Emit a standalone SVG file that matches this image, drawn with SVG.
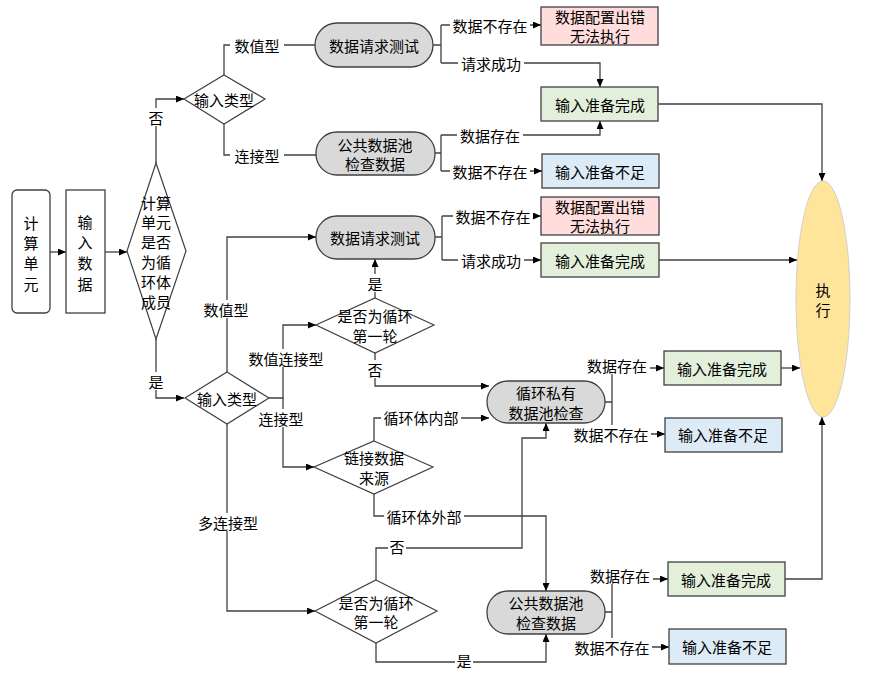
<svg xmlns="http://www.w3.org/2000/svg" width="872" height="676" viewBox="0 0 872 676">
<style>
text{font-family:"Noto Sans CJK SC","Noto Sans",sans-serif;font-size:15px;fill:#000;text-anchor:middle;dominant-baseline:central}
.box{stroke:#404040;stroke-width:1.3}
.proc{fill:#D9D9D9;stroke:#404040;stroke-width:1.3}
.dia{fill:#fff;stroke:#404040;stroke-width:1.2}
.pink{fill:#FFDDDD}
.green{fill:#E2EFDA}
.blue{fill:#DDEBF7}
.ln{fill:none;stroke:#404040;stroke-width:1.3}
.arr{marker-end:url(#ah)}
.bg{fill:#fff}
</style>
<defs>
<marker id="ah" markerWidth="8" markerHeight="7" refX="8" refY="3.5" orient="auto" markerUnits="userSpaceOnUse">
<path d="M0,0 L8,3.5 L0,7 z" fill="#000"/>
</marker>
</defs>
<rect width="872" height="676" fill="#fff"/>

<g id="connectors">
<path class="ln arr" d="M50,252 H66"/>
<path class="ln arr" d="M105,252 H127"/>
<path class="ln arr" d="M156,163 V99 H184"/>
<path class="ln" d="M224,75 V45 H315"/>
<path class="ln" d="M224,124 V155 H316"/>
<path class="ln" d="M433,45 H441 M441,25 V63"/>
<path class="ln arr" d="M441,25 H541"/>
<path class="ln arr" d="M441,63 H600 V87"/>
<path class="ln" d="M435,153 H441 M441,135 V171"/>
<path class="ln arr" d="M441,135 H600 V121"/>
<path class="ln arr" d="M441,171 H542"/>
<path class="ln arr" d="M658,104 H822 V181"/>
<path class="ln arr" d="M156,339 V398 H184"/>
<path class="ln arr" d="M227,372 V237 H316"/>
<path class="ln arr" d="M269,398 H283 V325 H316"/>
<path class="ln arr" d="M283,398 V467 H314"/>
<path class="ln arr" d="M375,298 V259"/>
<path class="ln" d="M435,237 H442 M442,216 V260"/>
<path class="ln arr" d="M442,216 H541"/>
<path class="ln arr" d="M442,260 H541"/>
<path class="ln arr" d="M659,260 H797"/>
<path class="ln arr" d="M375,353 V386 H489"/>
<path class="ln arr" d="M374,441 V418 H489"/>
<path class="ln arr" d="M374,494 V516 H546 V591"/>
<path class="ln arr" d="M227,424 V611 H315"/>
<path class="ln arr" d="M376,580 V548 H522 V438 H546 V423"/>
<path class="ln arr" d="M376,643 V662 H546 V634"/>
<path class="ln" d="M605,402 H612 M612,368 V434"/>
<path class="ln arr" d="M612,368 H664"/>
<path class="ln arr" d="M612,434 H665"/>
<path class="ln arr" d="M781,368 H800"/>
<path class="ln" d="M605,612 H612 M612,579 V647"/>
<path class="ln arr" d="M612,579 H668"/>
<path class="ln arr" d="M612,647 H669"/>
<path class="ln arr" d="M785,579 H822 V417"/>

<rect class="bg" x="147" y="108" width="18" height="18"/><text x="156" y="117">否</text>
<rect class="bg" x="230" y="36" width="54" height="18"/><text x="257" y="45">数值型</text>
<rect class="bg" x="230" y="146" width="54" height="18"/><text x="257" y="155">连接型</text>
<rect class="bg" x="450" y="16" width="80" height="18"/><text x="490" y="25">数据不存在</text>
<rect class="bg" x="458" y="54" width="66" height="18"/><text x="491" y="63">请求成功</text>
<rect class="bg" x="457" y="126" width="66" height="18"/><text x="490" y="135">数据存在</text>
<rect class="bg" x="450" y="162" width="80" height="18"/><text x="490" y="171">数据不存在</text>
<rect class="bg" x="147" y="372" width="18" height="18"/><text x="156" y="381">是</text>
<rect class="bg" x="199" y="300" width="54" height="18"/><text x="226" y="309">数值型</text>
<rect class="bg" x="246" y="349" width="80" height="18"/><text x="286" y="358">数值连接型</text>
<rect class="bg" x="254" y="409" width="54" height="18"/><text x="281" y="418">连接型</text>
<rect class="bg" x="366" y="274" width="18" height="18"/><text x="375" y="283">是</text>
<rect class="bg" x="453" y="207" width="80" height="18"/><text x="493" y="216">数据不存在</text>
<rect class="bg" x="458" y="251" width="66" height="18"/><text x="491" y="260">请求成功</text>
<rect class="bg" x="366" y="360" width="18" height="18"/><text x="375" y="369">否</text>
<rect class="bg" x="381" y="408" width="80" height="18"/><text x="421" y="417">循环体内部</text>
<rect class="bg" x="384" y="507" width="80" height="18"/><text x="424" y="516">循环体外部</text>
<rect class="bg" x="195" y="513" width="66" height="18"/><text x="228" y="522">多连接型</text>
<rect class="bg" x="388" y="538" width="18" height="18"/><text x="397" y="546">否</text>
<rect class="bg" x="455" y="651" width="18" height="18"/><text x="464" y="660">是</text>
<rect class="bg" x="584" y="356" width="66" height="18"/><text x="617" y="365">数据存在</text>
<rect class="bg" x="571" y="425" width="80" height="18"/><text x="611" y="434">数据不存在</text>
<rect class="bg" x="587" y="566" width="66" height="18"/><text x="620" y="575">数据存在</text>
<rect class="bg" x="572" y="638" width="80" height="18"/><text x="612" y="647">数据不存在</text>
</g>

<g id="n-calc">
<rect class="box" x="12" y="190" width="38" height="123" rx="5" fill="#fff"/>
<text x="31" y="222">计</text><text x="31" y="242">算</text><text x="31" y="262">单</text><text x="31" y="283">元</text>
</g>
<g id="n-input">
<rect class="box" x="66" y="190" width="39" height="123" fill="#fff"/>
<text x="85" y="221">输</text><text x="85" y="241">入</text><text x="85" y="262">数</text><text x="85" y="283">据</text>
</g>
<g id="n-isloop">
<polygon class="dia" points="156,163 186,251 156,339 127,251"/>
<text x="156" y="202">计算</text><text x="156" y="221">单元</text><text x="156" y="241">是否</text><text x="156" y="261">为循</text><text x="156" y="281">环体</text><text x="156" y="301">成员</text>
</g>
<g id="n-type1">
<polygon class="dia" points="224,75 265,99 224,124 184,99"/>
<text x="224" y="99">输入类型</text>
</g>
<g id="n-req1">
<rect class="proc" x="315" y="23" width="118" height="44" rx="22"/>
<text x="374" y="45">数据请求测试</text>
</g>
<g id="n-pool1">
<rect class="proc" x="316" y="132" width="119" height="43" rx="21"/>
<text x="375" y="144">公共数据池</text><text x="375" y="163">检查数据</text>
</g>
<g id="n-err1">
<rect class="box pink" x="541" y="7" width="117" height="38"/>
<text x="600" y="16">数据配置出错</text><text x="600" y="35">无法执行</text>
</g>
<g id="n-ok1">
<rect class="box green" x="541" y="87" width="117" height="34"/>
<text x="600" y="104">输入准备完成</text>
</g>
<g id="n-lack1">
<rect class="box blue" x="542" y="154" width="117" height="34"/>
<text x="600" y="171">输入准备不足</text>
</g>
<g id="n-exec">
<ellipse cx="823" cy="299" rx="27" ry="118" fill="#FFE599" stroke="#D0D0D0" stroke-width="1"/>
<text x="823" y="289">执</text><text x="823" y="309">行</text>
</g>
<g id="n-type2">
<polygon class="dia" points="227,372 269,398 227,424 185,398"/>
<text x="227" y="398">输入类型</text>
</g>
<g id="n-req2">
<rect class="proc" x="316" y="216" width="119" height="43" rx="21"/>
<text x="375" y="237">数据请求测试</text>
</g>
<g id="n-err2">
<rect class="box pink" x="541" y="197" width="118" height="38"/>
<text x="600" y="206">数据配置出错</text><text x="600" y="225">无法执行</text>
</g>
<g id="n-ok2">
<rect class="box green" x="541" y="243" width="118" height="34"/>
<text x="600" y="260">输入准备完成</text>
</g>
<g id="n-first1">
<polygon class="dia" points="375,298 434,325 375,353 316,325"/>
<text x="375" y="315">是否为循环</text><text x="375" y="335">第一轮</text>
</g>
<g id="n-loopPool">
<rect class="proc" x="487" y="381" width="118" height="42" rx="21"/>
<text x="546" y="392">循环私有</text><text x="546" y="412">数据池检查</text>
</g>
<g id="n-ok3">
<rect class="box green" x="664" y="351" width="117" height="34"/>
<text x="722" y="368">输入准备完成</text>
</g>
<g id="n-lack3">
<rect class="box blue" x="665" y="418" width="117" height="34"/>
<text x="723" y="434">输入准备不足</text>
</g>
<g id="n-linksrc">
<polygon class="dia" points="374,441 433,467 374,494 314,467"/>
<text x="374" y="457">链接数据</text><text x="374" y="477">来源</text>
</g>
<g id="n-first2">
<polygon class="dia" points="376,580 437,611 376,643 315,611"/>
<text x="376" y="602">是否为循环</text><text x="376" y="621">第一轮</text>
</g>
<g id="n-pool2">
<rect class="proc" x="487" y="591" width="118" height="43" rx="21"/>
<text x="546" y="602">公共数据池</text><text x="546" y="622">检查数据</text>
</g>
<g id="n-ok4">
<rect class="box green" x="668" y="562" width="117" height="34"/>
<text x="726" y="579">输入准备完成</text>
</g>
<g id="n-lack4">
<rect class="box blue" x="669" y="629" width="117" height="35"/>
<text x="727" y="646">输入准备不足</text>
</g>
</svg>
